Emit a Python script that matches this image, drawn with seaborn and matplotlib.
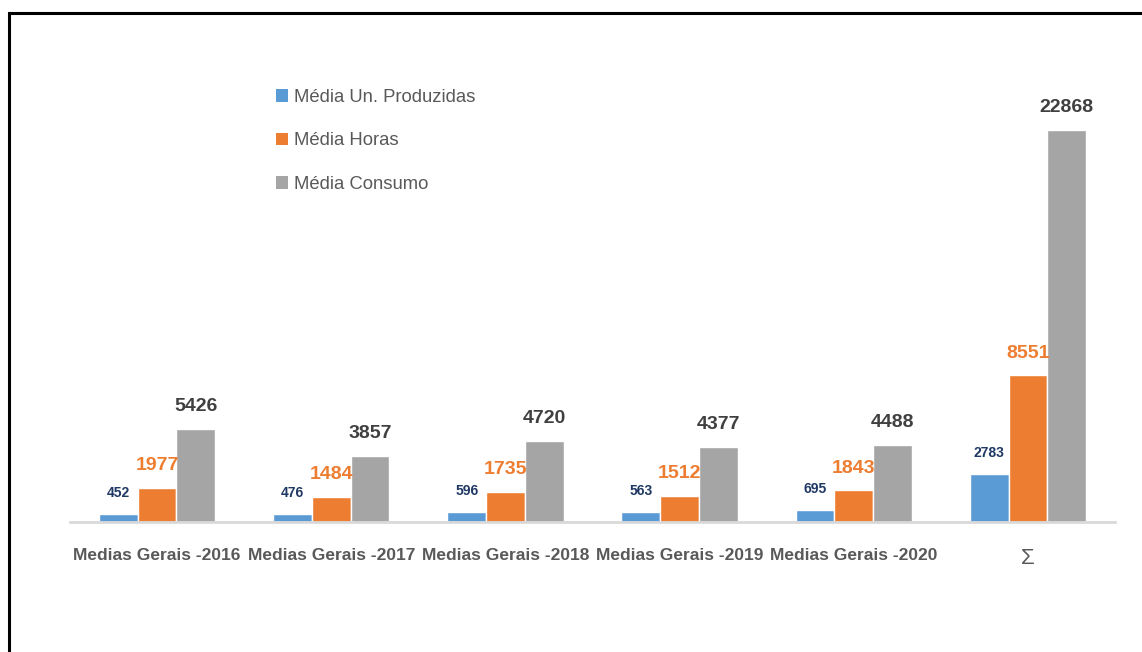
import matplotlib
matplotlib.use("Agg")
import matplotlib.pyplot as plt
from matplotlib.patches import Rectangle, Patch
import seaborn as sns
import pandas as pd

categories = ["Medias Gerais -2016", "Medias Gerais -2017", "Medias Gerais -2018",
              "Medias Gerais -2019", "Medias Gerais -2020", "\u03a3"]
series_names = ["Média Un. Produzidas", "Média Horas", "Média Consumo"]
un_produzidas = [452, 476, 596, 563, 695, 2783]
horas = [1977, 1484, 1735, 1512, 1843, 8551]
consumo = [5426, 3857, 4720, 4377, 4488, 22868]

colors = ["#5B9BD5", "#ED7D31", "#A5A5A5"]
label_colors = ["#1F3864", "#ED7D31", "#404040"]
label_sizes = [10, 14, 14]

sns.set_theme(style="white")
FAM = ["Liberation Sans", "DejaVu Sans"]
plt.rcParams["font.family"] = FAM

rows = []
for name, vals in zip(series_names, [un_produzidas, horas, consumo]):
    for c, v in zip(categories, vals):
        rows.append({"cat": c, "serie": name, "valor": v})
df = pd.DataFrame(rows)

fig = plt.figure(figsize=(11.42, 6.52), dpi=100)
ax = fig.add_axes([70 / 1142, 1 - 522 / 652, 1045 / 1142, 462 / 652])

sns.barplot(data=df, x="cat", y="valor", hue="serie", order=categories,
            hue_order=series_names, palette=colors, saturation=1,
            width=0.667, ax=ax, legend=False, errorbar=None)

ax.set_ylim(0, 22868 * 462 / 392)
ax.set_xlim(-0.5, len(categories) - 0.5)
for cont, col, fs in zip(ax.containers, label_colors, label_sizes):
    ax.bar_label(cont, labels=[f"{int(b.get_height())}" for b in cont],
                 padding=10, color=col, fontsize=fs, fontweight="bold")

ax.set_xlabel("")
ax.set_ylabel("")
ax.set_yticks([])
for s in ["top", "right", "left"]:
    ax.spines[s].set_visible(False)
ax.spines["bottom"].set_color("#D9D9D9")
ax.spines["bottom"].set_linewidth(2)
ax.tick_params(axis="x", length=0, pad=19, labelsize=12.5, labelcolor="#595959")
for t in ax.get_xticklabels():
    t.set_fontweight("bold")
    if t.get_text() == "\u03a3":
        t.set_fontsize(16)
        t.set_fontweight("normal")

handles = [Patch(facecolor=c, edgecolor="none", label=n) for c, n in zip(colors, series_names)]
fig.legend(handles=handles, loc="upper left", bbox_to_anchor=(276 / 1142, 1 - 89 / 652),
           frameon=False, fontsize=13.3, labelcolor="#595959", handlelength=0.65,
           handleheight=0.65, handletextpad=0.3, labelspacing=1.43,
           borderpad=0, borderaxespad=0)

fig.patches.append(Rectangle((9 / 1142, -0.2), 1.2, 1.2 - 13 / 652,
                             transform=fig.transFigure, fill=False,
                             edgecolor="black", linewidth=2.2))

fig.savefig("out.png", dpi=100)
